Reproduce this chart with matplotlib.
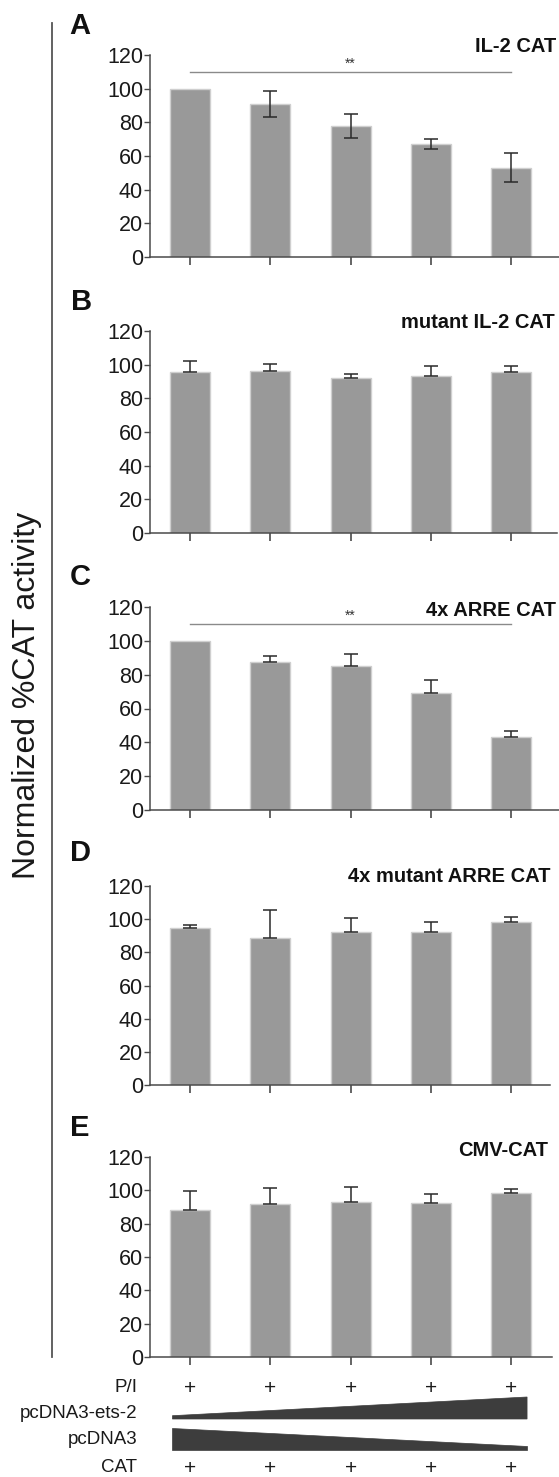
import matplotlib
matplotlib.use("Agg")
import matplotlib.pyplot as plt
from matplotlib.lines import Line2D
from matplotlib.patches import Polygon
import numpy as np

plt.rcParams["font.family"] = ["Liberation Sans", "DejaVu Sans"]

# Data (normalized %CAT activity)
groups = [0, 1, 2, 3, 4]
panel_letters = ["A", "B", "C", "D", "E"]
panel_titles = ["IL-2 CAT", "mutant IL-2 CAT", "4x ARRE CAT", "4x mutant ARRE CAT", "CMV-CAT"]

il2_vals = [100, 90.7, 77.7, 67.3, 53.1]
il2_err = [0, 7.7, 7.0, 2.9, 8.7]
mut_il2_vals = [95.7, 96.3, 92.3, 93.3, 95.9]
mut_il2_err = [6.5, 4.3, 2.4, 5.9, 3.3]
arre_vals = [100, 87.2, 85.0, 69.2, 43.1]
arre_err = [0, 3.7, 7.1, 7.5, 3.4]
mut_arre_vals = [94.8, 88.4, 92.2, 92.2, 98.4]
mut_arre_err = [1.4, 17.0, 8.6, 6.0, 3.2]
cmv_vals = [88.4, 92.0, 93.0, 92.6, 98.6]
cmv_err = [11.4, 9.4, 9.0, 5.0, 2.0]

panel_vals = [il2_vals, mut_il2_vals, arre_vals, mut_arre_vals, cmv_vals]
panel_errs = [il2_err, mut_il2_err, arre_err, mut_arre_err, cmv_err]
two_sided = [True, False, False, False, False]
significance = [True, False, True, False, False]  # ** between first and last group
sig_level = 110

row_labels = ["P/I", "pcDNA3-ets-2", "pcDNA3", "CAT"]
ets2_amount = [0.15, 1.0]     # relative wedge thickness, low -> high dose
pcdna3_amount = [1.0, 0.2]    # high -> low dose

W, H = 559, 1477
DPI = 100
fig = plt.figure(figsize=(W / DPI, H / DPI), dpi=DPI)
fig.patch.set_facecolor("white")


def px_rect(left, top, right, bottom):
    return [left / W, 1 - bottom / H, (right - left) / W, (bottom - top) / H]


# panel geometry in pixels: (top of 120, bottom at 0, right end of x axis)
geo = [(55, 257, 559), (331, 533, 557), (607, 810, 559), (886, 1085, 550), (1157, 1357, 552)]
title_pos = [(556, 47), (555, 322), (556, 611), (550, 877), (548, 1150)]
letter_pos = [(80, 26), (82, 302), (80, 577), (81, 853), (80, 1128)]
spine_x, first_tick, tick_step = 150, 190, 80.25

BAR = "#999999"
AX = "#4a4a4a"

axes = []
for i in range(5):
    top, bottom, right = geo[i]
    ax = fig.add_axes(px_rect(spine_x, top, right, bottom))
    axes.append(ax)
    vals = np.array(panel_vals[i])
    errs = np.array(panel_errs[i])
    ax.bar(groups, vals, width=0.5, color=BAR, edgecolor="#cfcfcf", linewidth=1, zorder=2)
    if two_sided[i]:
        yerr = errs
    else:
        yerr = np.vstack([np.zeros_like(errs), errs])
    mask = errs > 0
    ax.errorbar(np.array(groups)[mask], vals[mask],
                yerr=yerr[..., mask] if yerr.ndim == 2 else yerr[mask],
                fmt="none", ecolor="#2a2a2a", elinewidth=1.1, capsize=5, capthick=1.1, zorder=3)
    if significance[i]:
        ax.plot([groups[0], groups[-1]], [sig_level, sig_level], color="#8a8a8a", lw=1)
        ax.text((groups[0] + groups[-1]) / 2, sig_level + 0.5, "**", ha="center", va="bottom",
                fontsize=10, color="#333333")
    ax.set_ylim(0, 120)
    ax.set_xlim(-0.5, (right - first_tick) / tick_step)
    ax.set_yticks([0, 20, 40, 60, 80, 100, 120])
    ax.set_xticks(groups)
    ax.set_xticklabels([])
    for s in ("top", "right"):
        ax.spines[s].set_visible(False)
    for s in ("left", "bottom"):
        ax.spines[s].set_color(AX)
        ax.spines[s].set_linewidth(1.1)
    ax.tick_params(axis="y", direction="out", length=4, width=1, colors=AX, labelsize=15.5,
                   labelcolor="#1a1a1a", pad=1)
    ax.tick_params(axis="x", direction="out", length=6, width=1.2, colors=AX)

    fig.text(title_pos[i][0] / W, 1 - title_pos[i][1] / H, panel_titles[i], ha="right",
             va="center", fontsize=14.5, fontweight="bold", color="#111111")
    fig.text(letter_pos[i][0] / W, 1 - letter_pos[i][1] / H, panel_letters[i], ha="center",
             va="center", fontsize=21, fontweight="bold", color="#111111")

# left bracket line and shared y label
fig.add_artist(Line2D([52 / W, 52 / W], [1 - 23 / H, 1 - 1357 / H], color="#555555", lw=1.3))
fig.text(27 / W, 1 - 695 / H, "Normalized %CAT activity", rotation=90, ha="center",
         va="center", fontsize=23, color="#1a1a1a")

# treatment table under the last panel
axt = fig.add_axes(px_rect(spine_x, 1370, geo[4][2], H))
axt.set_xlim(axes[4].get_xlim())
axt.set_ylim(H, 1370)
axt.axis("off")
row_y = [1388, 1413, 1440, 1468]
label_x = (137 - first_tick) / tick_step
for lbl, y in zip(row_labels, row_y):
    axt.text(label_x, y, lbl, ha="right", va="center", fontsize=13.5, color="#1a1a1a", clip_on=False)
for g in groups:
    for y in (row_y[0], row_y[3]):
        axt.text(g, y, "+", ha="center", va="center", fontsize=15, color="#1a1a1a")

x0, x1 = groups[0] - 0.22, groups[-1] + 0.2
wedge_h = 22
base1 = 1419
axt.add_patch(Polygon([(x0, base1), (x0, base1 - wedge_h * ets2_amount[0]),
                       (x1, base1 - wedge_h * ets2_amount[1]), (x1, base1)],
                      closed=True, color="#3d3d3d", lw=0.5))
top2 = 1428
axt.add_patch(Polygon([(x0, top2), (x0, top2 + wedge_h * pcdna3_amount[0]),
                       (x1, top2 + wedge_h * pcdna3_amount[0]),
                       (x1, top2 + wedge_h * (1 - pcdna3_amount[1]))],
                      closed=True, color="#3d3d3d", lw=0.5))

fig.savefig("out.png", dpi=DPI, facecolor="white")
